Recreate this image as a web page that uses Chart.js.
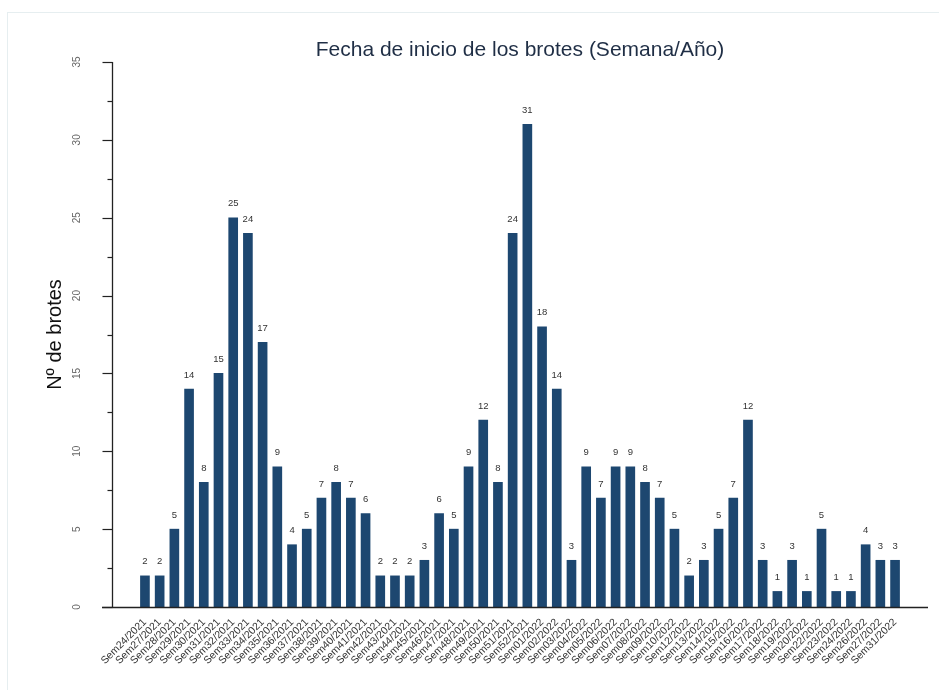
<!DOCTYPE html>
<html>
<head>
<meta charset="utf-8">
<script src="https://cdn.jsdelivr.net/npm/chart.js@4.4.0/dist/chart.umd.min.js"></script>
<style>
    html, body { margin: 0; padding: 0; background: #fff; }
    #wrap { position: relative; width: 939px; height: 690px; overflow: hidden; }
    #card { position: absolute; left: 7px; top: 12px; width: 1000px; height: 1000px; border: 1px solid #e6eef0; box-sizing: border-box; }
    canvas { position: absolute; left: 0; top: 0; }
</style>
</head>
<body>
<div id="wrap">
    <div id="card"></div>
    <canvas id="brotesChart" width="939" height="690"></canvas>
</div>
<script>
// Semana/Año de inicio
const weekLabels = [
    'Sem24/2021', 'Sem27/2021', 'Sem28/2021', 'Sem29/2021', 'Sem30/2021', 'Sem31/2021',
    'Sem32/2021', 'Sem33/2021', 'Sem34/2021', 'Sem35/2021', 'Sem36/2021', 'Sem37/2021',
    'Sem38/2021', 'Sem39/2021', 'Sem40/2021', 'Sem41/2021', 'Sem42/2021', 'Sem43/2021',
    'Sem44/2021', 'Sem45/2021', 'Sem46/2021', 'Sem47/2021', 'Sem48/2021', 'Sem49/2021',
    'Sem50/2021', 'Sem51/2021', 'Sem52/2021', 'Sem01/2022', 'Sem02/2022', 'Sem03/2022',
    'Sem04/2022', 'Sem05/2022', 'Sem06/2022', 'Sem07/2022', 'Sem08/2022', 'Sem09/2022',
    'Sem10/2022', 'Sem12/2022', 'Sem13/2022', 'Sem14/2022', 'Sem15/2022', 'Sem16/2022',
    'Sem17/2022', 'Sem18/2022', 'Sem19/2022', 'Sem20/2022', 'Sem22/2022', 'Sem23/2022',
    'Sem24/2022', 'Sem26/2022', 'Sem27/2022', 'Sem31/2022'
];

// Nº de brotes por semana
const outbreakCounts = [
    2, 2, 5, 14, 8, 15, 25, 24, 17, 9, 4, 5, 7, 8, 7, 6, 2, 2, 2, 3,
    6, 5, 9, 12, 8, 24, 31, 18, 14, 3, 9, 7, 9, 9, 8, 7, 5, 2, 3, 5,
    7, 12, 3, 1, 3, 1, 5, 1, 1, 4, 3, 3
];

const yTickLabels = [0, 5, 10, 15, 20, 25, 30, 35];
const yMinorTicks = [2.5, 7.5, 12.5, 17.5, 22.5, 27.5, 32.5];

const chartTitle = 'Fecha de inicio de los brotes (Semana/Año)';
const yAxisTitle = 'Nº de brotes';

const FONT = '"Liberation Sans", Arial, Helvetica, sans-serif';
const barColor = '#1d4770';

/**
 * Draws the title, the R-style axes and the value labels above the bars.
 */
const axisDecorations = {
    id: 'axisDecorations',
    afterDraw(chart) {
        const { ctx, chartArea, scales: { x, y } } = chart;
        ctx.save();

        // título
        ctx.fillStyle = '#1f2e45';
        ctx.font = '21px ' + FONT;
        ctx.textAlign = 'center';
        ctx.textBaseline = 'middle';
        ctx.fillText(chartTitle, (chartArea.left + chartArea.right) / 2, 50);

        // eje Y
        const axisX = Math.round(chartArea.left) + 0.5;
        ctx.strokeStyle = '#222';
        ctx.lineWidth = 1.3;
        ctx.beginPath();
        ctx.moveTo(axisX, y.getPixelForValue(35));
        ctx.lineTo(axisX, y.getPixelForValue(0));
        ctx.stroke();

        ctx.lineWidth = 1.2;
        yTickLabels.forEach(v => {
            const py = Math.round(y.getPixelForValue(v)) + 0.5;
            ctx.beginPath();
            ctx.moveTo(axisX - 10, py);
            ctx.lineTo(axisX, py);
            ctx.stroke();
        });
        yMinorTicks.forEach(v => {
            const py = Math.round(y.getPixelForValue(v)) + 0.5;
            ctx.beginPath();
            ctx.moveTo(axisX - 5, py);
            ctx.lineTo(axisX, py);
            ctx.stroke();
        });

        // etiquetas del eje Y (giradas)
        ctx.fillStyle = '#666';
        ctx.font = '10px ' + FONT;
        yTickLabels.forEach(v => {
            ctx.save();
            ctx.translate(chartArea.left - 35, y.getPixelForValue(v));
            ctx.rotate(-Math.PI / 2);
            ctx.fillText(String(v), 0, 0);
            ctx.restore();
        });

        // eje X
        const axisY = Math.round(chartArea.bottom) + 0.5;
        ctx.strokeStyle = '#222';
        ctx.lineWidth = 1.3;
        ctx.beginPath();
        ctx.moveTo(chartArea.left - 10, axisY);
        ctx.lineTo(chartArea.right, axisY);
        ctx.stroke();

        // valores sobre las barras
        ctx.fillStyle = '#333';
        ctx.font = '9.5px ' + FONT;
        const meta = chart.getDatasetMeta(0);
        meta.data.forEach((bar, i) => {
            ctx.fillText(String(outbreakCounts[i]), bar.x, bar.y - 14);
        });

        ctx.restore();
    }
};

const ctx = document.getElementById('brotesChart').getContext('2d');

new Chart(ctx, {
    type: 'bar',
    data: {
        datasets: [{
            label: yAxisTitle,
            data: outbreakCounts.map((v, i) => ({ x: i, y: v })),
            backgroundColor: barColor,
            borderWidth: 0,
            barThickness: 9
        }]
    },
    options: {
        responsive: false,
        animation: false,
        layout: {
            padding: { top: 62, right: 11, left: 0, bottom: 0 }
        },
        plugins: {
            legend: { display: false },
            tooltip: { enabled: false }
        },
        scales: {
            x: {
                type: 'linear',
                offset: false,
                min: -2.24,
                max: 53.24,
                grid: { display: false },
                border: { display: false },
                afterBuildTicks: scale => {
                    scale.ticks = weekLabels.map((_, i) => ({ value: i }));
                },
                afterFit: scale => {
                    scale.height = 83;
                },
                ticks: {
                    autoSkip: false,
                    minRotation: 45,
                    maxRotation: 45,
                    padding: 1,
                    color: '#333',
                    font: { family: FONT, size: 10.5 },
                    callback: value => weekLabels[value] ?? ''
                }
            },
            y: {
                min: 0,
                max: 35,
                grid: { display: false },
                border: { display: false },
                ticks: { display: false },
                title: {
                    display: true,
                    text: yAxisTitle,
                    color: '#111',
                    font: { family: FONT, size: 20 },
                    padding: { top: 43, bottom: 0 }
                },
                afterFit: scale => {
                    scale.width = 112;
                }
            }
        }
    },
    plugins: [axisDecorations]
});
</script>
</body>
</html>
